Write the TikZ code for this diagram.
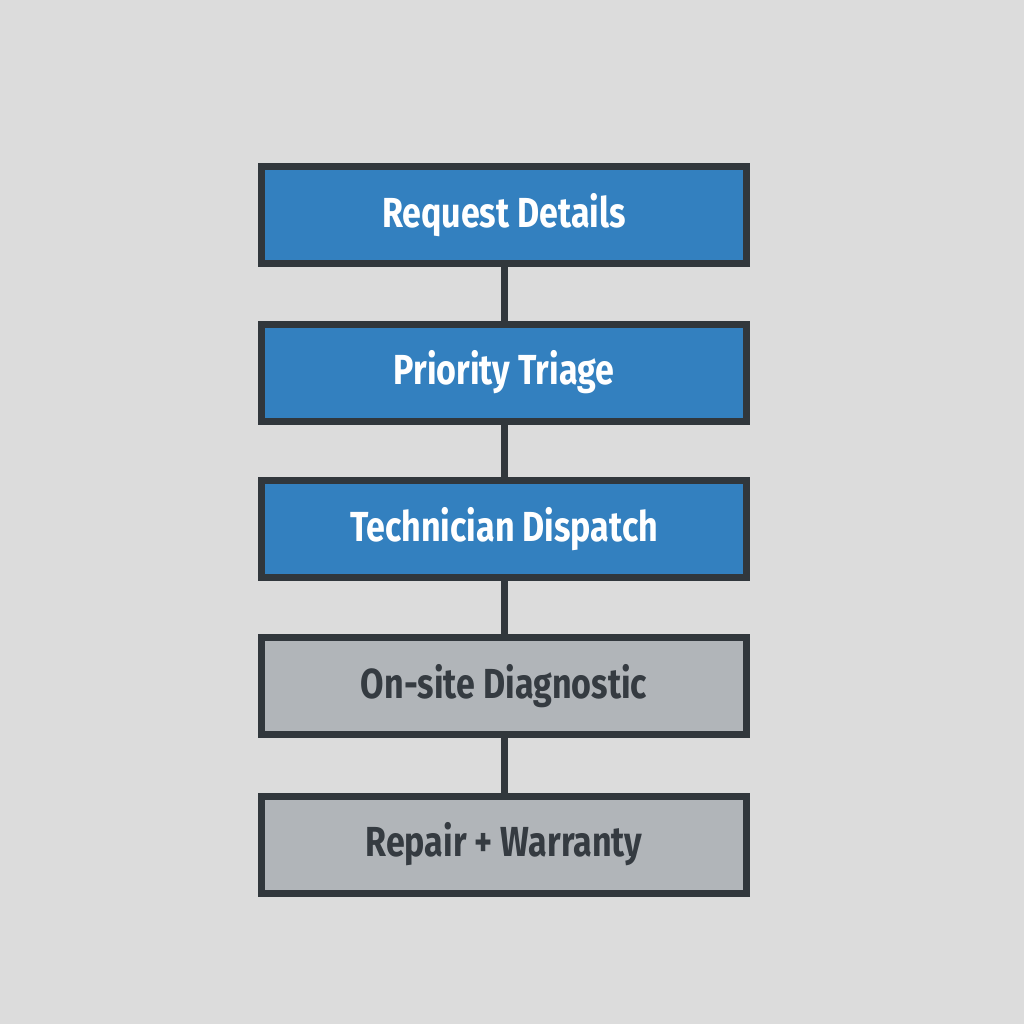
\documentclass[tikz,border=0pt]{standalone}
\usepackage{fontspec}
\setmainfont{Fira Sans}[FakeStretch=0.81]
\definecolor{bg}{HTML}{DCDCDC}
\definecolor{bluefill}{HTML}{3380BF}
\definecolor{grayfill}{HTML}{B1B5B9}
\definecolor{edge}{HTML}{31373C}
\definecolor{darktext}{HTML}{353B41}
\begin{document}
\begin{tikzpicture}[x=1pt,y=-1pt,
  stepbox/.style={draw=edge, line width=7pt, minimum width=485pt, minimum height=97pt, inner sep=0pt,
    font=\fontsize{42}{46}\selectfont\bfseries},
  bluebox/.style={stepbox, fill=bluefill, text=white},
  graybox/.style={stepbox, fill=grayfill, text=darktext},
  link/.style={draw=edge, line width=7pt}]
\fill[bg] (0,0) rectangle (1024,1024);
\useasboundingbox (0,0) rectangle (1024,1024);
\node[bluebox] (n1) at (504,215) {Request Details};
\node[bluebox] (n2) at (504,372.5) {Priority Triage};
\node[bluebox] (n3) at (504,529) {Technician Dispatch};
\node[graybox] (n4) at (504,686) {On-site Diagnostic};
\node[graybox] (n5) at (504,844.5) {Repair + Warranty};
\draw[link] (n1) -- (n2);
\draw[link] (n2) -- (n3);
\draw[link] (n3) -- (n4);
\draw[link] (n4) -- (n5);
\end{tikzpicture}
\end{document}
